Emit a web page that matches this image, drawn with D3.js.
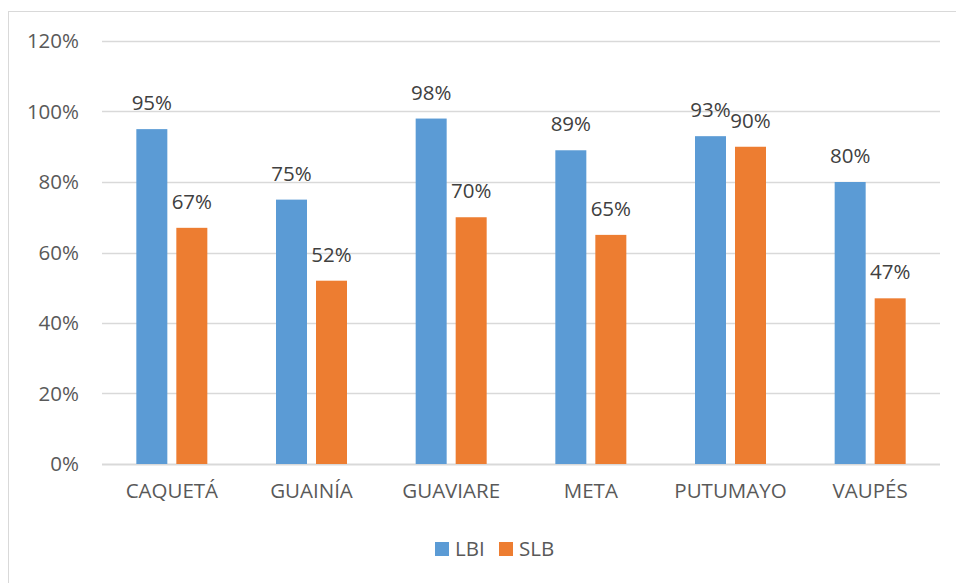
<!DOCTYPE html>
<html>
<head>
<meta charset="utf-8">
<script src="https://cdn.jsdelivr.net/npm/d3@7"></script>
<style>
  body { margin: 0; background: #fff; }
  #here { width: 956px; height: 583px; }
  text { font-family: "Open Sans", sans-serif; }
</style>
</head>
<body>
<div id="here"></div>
<script>
// data
const departments = ["CAQUETÁ", "GUAINÍA", "GUAVIARE", "META", "PUTUMAYO", "VAUPÉS"];
const seriesNames = ["LBI", "SLB"];
const lbi = [0.95, 0.75, 0.98, 0.89, 0.93, 0.80];
const slb = [0.67, 0.52, 0.70, 0.65, 0.90, 0.47];
const yTicks = [0, 0.2, 0.4, 0.6, 0.8, 1.0, 1.2];

const colors = { LBI: "#5B9BD5", SLB: "#ED7D31" };
const fontSize = 20.5;

const width = 956;
const height = 583;
const margin = { top: 41, right: 16, bottom: 119, left: 102 };

const svg = d3.select("#here")
    .append("svg")
    .attr("width", width)
    .attr("height", height);

// chart frame
svg.append("rect")
    .attr("x", 8.5)
    .attr("y", 11.5)
    .attr("width", width)
    .attr("height", height)
    .attr("fill", "none")
    .attr("stroke", "#D9D9D9")
    .attr("stroke-width", 1);

const rows = departments.map(function(d, i){
    return { dept: d, LBI: lbi[i], SLB: slb[i] };
});

// scales
const xScale = d3.scaleBand()
    .domain(departments)
    .range([margin.left, width - margin.right])
    .paddingInner(0)
    .paddingOuter(0);

const xInner = d3.scaleBand()
    .domain(seriesNames)
    .range([0, 71])
    .paddingInner(0.225);

const yScale = d3.scaleLinear()
    .domain([0, 1.2])
    .range([height - margin.bottom, margin.top]);

// gridlines
svg.append("g")
    .selectAll("line")
    .data(yTicks)
    .enter()
    .append("line")
    .attr("x1", margin.left)
    .attr("x2", width - margin.right)
    .attr("y1", function(d){ return Math.round(yScale(d)) + 0.5; })
    .attr("y2", function(d){ return Math.round(yScale(d)) + 0.5; })
    .attr("stroke", "#D9D9D9")
    .attr("stroke-width", function(d){ return d === 0 ? 2 : 1.5; });

// y axis labels
const yAxis = svg.append("g")
    .attr("transform", `translate(${margin.left}, 0)`)
    .call(d3.axisLeft(yScale).tickValues(yTicks).tickFormat(d3.format(".0%")).tickSize(0).tickPadding(23));
yAxis.select(".domain").remove();
yAxis.selectAll("text")
    .attr("font-family", "Open Sans, sans-serif")
    .attr("font-size", fontSize)
    .attr("fill", "#595959");

// x axis labels
const xAxis = svg.append("g")
    .attr("transform", `translate(0, ${height - margin.bottom})`)
    .call(d3.axisBottom(xScale).tickSize(0).tickPadding(19));
xAxis.select(".domain").remove();
xAxis.selectAll("text")
    .attr("font-family", "Open Sans, sans-serif")
    .attr("font-size", fontSize)
    .attr("fill", "#595959");

// bars
const groups = svg.selectAll(".grp")
    .data(rows)
    .enter()
    .append("g")
    .attr("class", "grp")
    .attr("transform", function(d){
        return `translate(${xScale(d.dept) + xScale.bandwidth() / 2 - 35.5}, 0)`;
    });

groups.selectAll("rect")
    .data(function(d){
        return seriesNames.map(function(s){ return { key: s, value: d[s] }; });
    })
    .enter()
    .append("rect")
    .attr("x", function(d){ return xInner(d.key); })
    .attr("y", function(d){ return yScale(d.value); })
    .attr("width", xInner.bandwidth())
    .attr("height", function(d){ return yScale(0) - yScale(d.value); })
    .attr("fill", function(d){ return colors[d.key]; });

// data labels
groups.selectAll("text")
    .data(function(d){
        return seriesNames.map(function(s){ return { key: s, value: d[s] }; });
    })
    .enter()
    .append("text")
    .attr("x", function(d){ return xInner(d.key) + xInner.bandwidth() / 2; })
    .attr("y", function(d){ return yScale(d.value) - 19; })
    .attr("text-anchor", "middle")
    .attr("font-size", fontSize)
    .attr("fill", "#404040")
    .text(function(d){ return d3.format(".0%")(d.value); });

// legend
const legend = svg.append("g")
    .attr("transform", "translate(435, 542)");

const items = legend.selectAll("g")
    .data(seriesNames)
    .enter()
    .append("g")
    .attr("transform", function(d, i){ return `translate(${i * 64}, 0)`; });

items.append("rect")
    .attr("width", 14)
    .attr("height", 14)
    .attr("fill", function(d){ return colors[d]; });

items.append("text")
    .attr("x", 20)
    .attr("y", 14)
    .attr("font-size", fontSize)
    .attr("fill", "#595959")
    .text(function(d){ return d; });
</script>
</body>
</html>
